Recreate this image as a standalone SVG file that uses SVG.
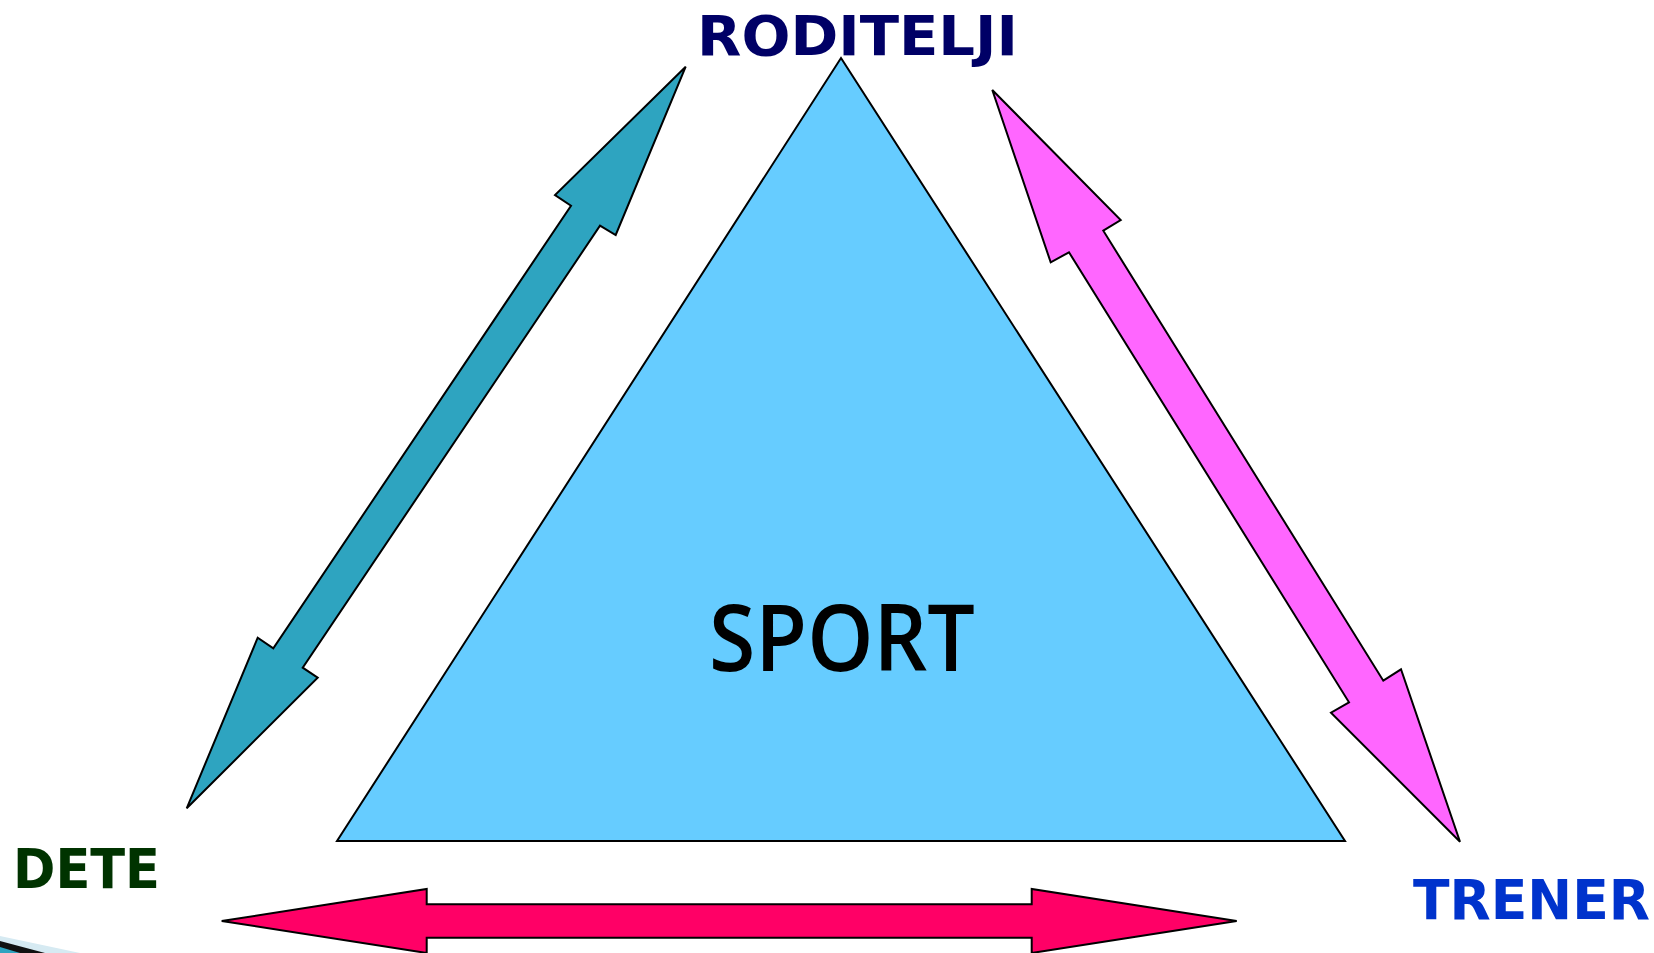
<svg xmlns="http://www.w3.org/2000/svg" width="1654" height="953" viewBox="0 0 1654 953">
<style>
.lbl{font-family:"DejaVu Sans","Liberation Sans",sans-serif;font-weight:bold;font-size:55px}
.shp{stroke:#000;stroke-width:2;stroke-linejoin:miter}
</style>
<rect width="1654" height="953" fill="#fff"/>
<g id="decor">
<polygon points="0,936 80,953 0,953" fill="#d6eaf2"/>
<polygon points="0,941 45,953 0,953" fill="#111"/>
<polygon points="0,947 20,953 0,953" fill="#2ea4c0"/>
</g>
<g id="sport">
<polygon class="shp" points="841,58 1345,841 337,841" fill="#66ccff"/>
<text x="842" y="671" text-anchor="middle" font-family="'Open Sans','Noto Sans',sans-serif" font-weight="600" font-size="92" fill="#000" textLength="266" lengthAdjust="spacingAndGlyphs">SPORT</text>
</g>
<g id="roditelji">
<text class="lbl" x="697" y="55" fill="#000066" textLength="321" lengthAdjust="spacingAndGlyphs">RODITELJI</text>
</g>
<g id="dete">
<text class="lbl" x="13" y="888" fill="#003300" textLength="147" lengthAdjust="spacingAndGlyphs">DETE</text>
</g>
<g id="trener">
<text class="lbl" x="1413" y="919" fill="#0033cc" textLength="237" lengthAdjust="spacingAndGlyphs">TRENER</text>
</g>
<g id="connectors">
<polygon class="shp" fill="#2ea4c0" points="685.7,66.7 615.7,235 600,225.7 302.7,667.7 317.7,677.7 186.7,808.3 257.7,637.7 273.3,648.3 571,205.7 555,195"/>
<polygon class="shp" fill="#ff66ff" points="992.3,90 1120.7,220 1103.3,230.7 1383.3,680.7 1401,669.3 1460,841.7 1331,712.7 1349,702.3 1069,252.3 1050.7,262.3"/>
<polygon class="shp" fill="#ff0066" points="221.7,921 426.7,889 426.7,904.3 1031.7,904.3 1031.7,889 1236.7,921 1031.7,953 1031.7,937.7 426.7,937.7 426.7,953"/>
</g>
</svg>
